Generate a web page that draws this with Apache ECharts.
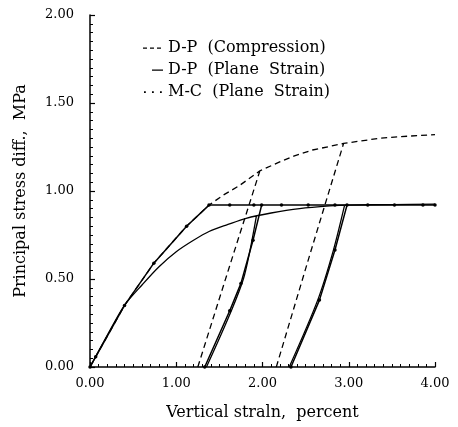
<!DOCTYPE html>
<html>
<head>
<meta charset="utf-8">
<script src="https://cdn.jsdelivr.net/npm/echarts@6/dist/echarts.min.js"></script>
<style>
html,body{margin:0;padding:0;background:#fff;}
#chart{width:458px;height:427px;}
</style>
</head>
<body>
<div id="chart"></div>
<script>
// ---- Data (strain %, stress diff MPa) ----
var xTicks = [0, 1, 2, 3, 4];
var yTicks = [0, 0.5, 1.0, 1.5, 2.0];
var seriesNames = ['D-P  (Compression)', 'D-P  (Plane  Strain)', 'M-C  (Plane  Strain)'];

var dpCompLoad = [[0,0],[0.4,0.35],[0.74,0.59],[1.12,0.80],[1.38,0.92],[1.54,0.975],[1.73,1.03],[1.97,1.115],[2.2,1.165],[2.37,1.2],[2.58,1.233],[2.94,1.27],[3.36,1.30],[3.7,1.312],[4.0,1.32]];
var dpCompUnload1 = [[1.25,0],[1.61,0.56],[1.97,1.115]];
var dpCompUnload2 = [[2.16,0],[2.55,0.64],[2.94,1.27]];

var dpPlaneLoad = [[0,0],[0.2,0.18],[0.4,0.35],[0.61,0.47],[0.8,0.57],[1.0,0.655],[1.2,0.72],[1.38,0.77],[1.6,0.81],[1.81,0.845],[2.1,0.875],[2.43,0.9],[2.78,0.915],[3.0,0.92],[3.5,0.923],[4.0,0.925]];
var dpPlaneUnload1 = [[1.35,0],[1.63,0.31],[1.79,0.52],[1.93,0.86]];
var dpPlaneUnload2 = [[2.31,0],[2.64,0.38],[2.82,0.66],[2.95,0.915]];

var mcLoad = [[0,0],[0.066,0.058],[0.40,0.35],[0.74,0.59],[1.12,0.80],[1.38,0.92],[1.62,0.92],[1.9,0.92],[2.22,0.92],[2.53,0.92],[2.84,0.92],[3.22,0.92],[3.53,0.92],[3.86,0.92],[4.0,0.92]];
var mcUnload1 = [[1.33,0],[1.62,0.32],[1.75,0.475],[1.89,0.72],[1.99,0.92]];
var mcUnload2 = [[2.33,0],[2.66,0.38],[2.84,0.665],[2.98,0.92]];

// join several paths into one series, broken by gaps
function joinPaths(paths) {
  var out = [];
  paths.forEach(function (p, i) {
    if (i > 0) out.push(['-', '-']);
    out = out.concat(p);
  });
  return out;
}

var FONT = 'DejaVu Serif';
var chart = echarts.init(document.getElementById('chart'), null, {renderer:'canvas'});

// legend sample icons (box 20 x 10)
var iconDashed = 'path://M0,0L0.01,0M0,4.4h4v1.3h-4zM7,4.4h4v1.3h-4zM14,4.4h4v1.3h-4zM0,10L0.01,10M20,10L20.01,10';
var iconSolid  = 'path://M0,0L0.01,0M9,4.4h11v1.3h-11zM0,10L0.01,10';
var iconDots   = 'path://M0,0L0.01,0M1,4.2h1.8v1.8h-1.8zM9,4.2h1.8v1.8h-1.8zM17,4.2h1.8v1.8h-1.8zM0,10L0.01,10M20,10L20.01,10';

var option = {
  backgroundColor:'#fff',
  animation:false,
  grid:{left:90, right:23, top:15, bottom:60, containLabel:false},
  legend:{
    orient:'vertical', left:138, top:35, itemGap:6, itemWidth:20, itemHeight:10,
    textStyle:{fontFamily:FONT, fontSize:16, color:'#000'},
    data:[
      {name:seriesNames[0], icon:iconDashed},
      {name:seriesNames[1], icon:iconSolid},
      {name:seriesNames[2], icon:iconDots}
    ]
  },
  xAxis:{
    type:'value', min:xTicks[0], max:xTicks[xTicks.length-1], interval:1,
    name:'Vertical straln,  percent', nameLocation:'middle', nameGap:38,
    nameTextStyle:{fontFamily:FONT, fontSize:16, color:'#000'},
    axisLine:{show:true, lineStyle:{color:'#000', width:1.5}},
    axisTick:{show:true, inside:true, length:5, lineStyle:{color:'#000', width:1.2}},
    minorTick:{show:true, splitNumber:10, length:3, lineStyle:{color:'#000', width:1}},
    axisLabel:{fontFamily:FONT, fontSize:13, color:'#000', margin:10, formatter:function(v){return v.toFixed(2);}},
    splitLine:{show:false}
  },
  yAxis:{
    type:'value', min:yTicks[0], max:yTicks[yTicks.length-1], interval:0.5,
    name:'Principal stress diff.,  MPa', nameLocation:'middle', nameGap:61,
    nameTextStyle:{fontFamily:FONT, fontSize:16, color:'#000'},
    axisLine:{show:true, lineStyle:{color:'#000', width:1.5}},
    axisTick:{show:true, inside:true, length:5, lineStyle:{color:'#000', width:1.2}},
    minorTick:{show:true, splitNumber:10, length:3, lineStyle:{color:'#000', width:1}},
    axisLabel:{fontFamily:FONT, fontSize:13, color:'#000', margin:16, formatter:function(v){return v.toFixed(2);}},
    splitLine:{show:false}
  },
  series:[
    {name:seriesNames[0], type:'line', data:joinPaths([dpCompLoad, dpCompUnload1, dpCompUnload2]),
      connectNulls:false, showSymbol:false, symbol:'none', smooth:false,
      lineStyle:{color:'#000', width:1.3, type:[6,4]}, itemStyle:{color:'#000'}, z:3},
    {name:seriesNames[1], type:'line', data:joinPaths([dpPlaneLoad, dpPlaneUnload1, dpPlaneUnload2]),
      connectNulls:false, showSymbol:false, symbol:'none', smooth:0.3,
      lineStyle:{color:'#000', width:1.3}, itemStyle:{color:'#000'}, z:2},
    {name:seriesNames[2], type:'line', data:joinPaths([mcLoad, mcUnload1, mcUnload2]),
      connectNulls:false, showSymbol:true, symbol:'circle', symbolSize:3.5, smooth:false,
      lineStyle:{color:'#000', width:1.5}, itemStyle:{color:'#000'}, z:4}
  ]
};
chart.setOption(option);
</script>
</body>
</html>
